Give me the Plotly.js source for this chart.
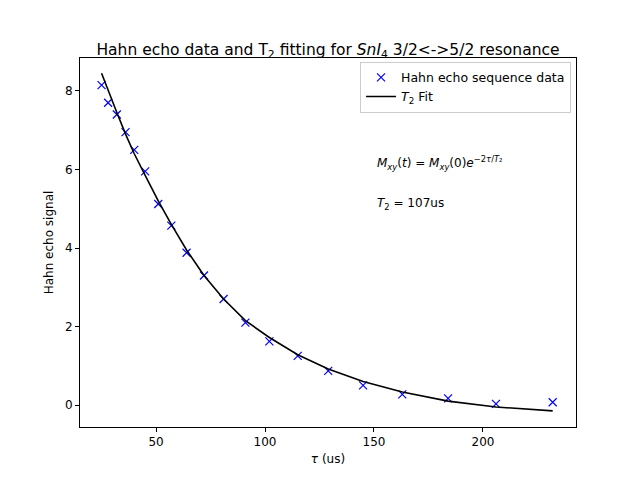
<!DOCTYPE html>
<html>
<head>
<meta charset="utf-8">
<script src="https://cdn.plot.ly/plotly-3.0.1.min.js"></script>
<style>body{margin:0}</style>
</head>
<body>
<div id="plot" style="width:640px;height:480px"></div>
<script>
// valores
const tau = [25, 28, 32, 36, 40, 45, 51, 57, 64, 72, 81, 91, 102, 115, 129, 145, 163, 184, 206, 232];
const sinal = [8.15, 7.7, 7.4, 6.95, 6.5, 5.95, 5.12, 4.57, 3.88, 3.3, 2.7, 2.1, 1.62, 1.25, 0.87, 0.5, 0.27, 0.17, 0.03, 0.07];
const ajuste = [8.45, 8.0, 7.45, 6.9, 6.4, 5.85, 5.2, 4.6, 3.95, 3.3, 2.7, 2.15, 1.72, 1.28, 0.92, 0.6, 0.33, 0.1, -0.05, -0.15];

const dados = {
    x: tau, y: sinal, mode: 'markers', name: 'Hahn echo sequence data',
    marker: { symbol: 'x-thin', size: 8, color: 'blue', line: { color: 'blue', width: 1.2 } }
};
const fit = {
    x: tau, y: ajuste, mode: 'lines', name: '<i>T</i><sub>2</sub> Fit',
    line: { color: 'black', width: 1.6 }
};

const eixo = {
    showgrid: false, zeroline: false, showline: true, mirror: true,
    linecolor: 'black', linewidth: 1, ticks: 'outside', ticklen: 4, tickcolor: 'black'
};

const layout = {
    width: 640, height: 480,
    margin: { l: 80, r: 64, t: 58, b: 53 },
    paper_bgcolor: 'white', plot_bgcolor: 'white',
    font: { family: 'DejaVu Sans', size: 12, color: 'black' },
    title: { text: 'Hahn echo data and T<sub>2</sub> fitting for <i>SnI</i><sub>4</sub> 3/2<->5/2 resonance', font: { size: 15.5 }, x: 0.5, xref: 'paper', y: 0.885, yanchor: 'bottom' },
    xaxis: Object.assign({}, eixo, { range: [15.1, 242.7], tickvals: [50, 100, 150, 200], title: { text: '<i>τ</i> (us)', standoff: 6, font: { size: 12 } } }),
    yaxis: Object.assign({}, eixo, { range: [-0.56, 8.84], tickvals: [0, 2, 4, 6, 8], title: { text: 'Hahn echo signal', standoff: 8, font: { size: 12 } } }),
    legend: { x: 0.99, y: 0.99, xanchor: 'right', yanchor: 'top', bordercolor: '#ccc', borderwidth: 1, font: { size: 12.5 } },
    annotations: [
        { xref: 'paper', yref: 'paper', x: 0.595, y: 0.715, xanchor: 'left', yanchor: 'middle', showarrow: false, font: { size: 12 },
          text: '<i>M<sub>xy</sub></i>(<i>t</i>) = <i>M<sub>xy</sub></i>(0)<i>e</i><sup>−2<i>τ</i>/<i>T</i>₂</sup>' },
        { xref: 'paper', yref: 'paper', x: 0.595, y: 0.605, xanchor: 'left', yanchor: 'middle', showarrow: false, font: { size: 12 },
          text: '<i>T</i><sub>2</sub> = 107us' }
    ]
};

Plotly.newPlot('plot', [dados, fit], layout, { displayModeBar: false });
</script>
</body>
</html>
